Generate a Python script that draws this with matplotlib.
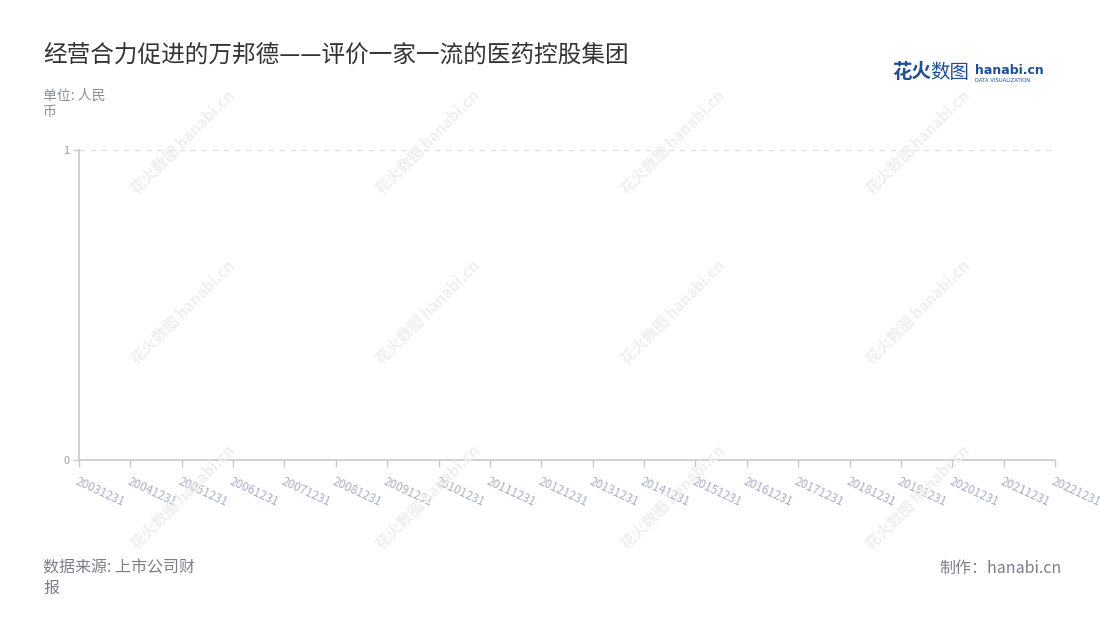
import matplotlib
matplotlib.use("Agg")
import matplotlib.pyplot as plt
import numpy as np

plt.rcParams['font.family'] = ['Noto Sans CJK SC', 'DejaVu Sans']

# x categories (report dates) - the chart has no data points drawn
dates = ['20031231', '20041231', '20051231', '20061231', '20071231',
         '20081231', '20091231', '20101231', '20111231', '20121231',
         '20131231', '20141231', '20151231', '20161231', '20171231',
         '20181231', '20191231', '20201231', '20211231', '20221231']
values = [np.nan] * len(dates)
y_ticks = [0, 1]

title = '经营合力促进的万邦德——评价一家一流的医药控股集团'
unit = '单位: 人民\n币'
source = '数据来源: 上市公司财\n报'
maker = '制作：hanabi.cn'

W, H = 1100, 620
fig = plt.figure(figsize=(W / 100, H / 100), dpi=100)
fig.patch.set_facecolor('white')

def fx(px):
    return px / W

def fy(py):
    return 1 - py / H

# watermark grid
for cx in [183, 428, 673, 918]:
    for cy in [142, 312, 497]:
        fig.text(fx(cx), fy(cy), '花火数图 hanabi.cn', rotation=45,
                 ha='center', va='center', fontsize=11, color='#efefef',
                 fontweight='bold', zorder=0)

ax = fig.add_axes([fx(79), fy(460), fx(1055) - fx(79), fy(150) - fy(460)])
ax.set_facecolor('none')
x = np.arange(len(dates))
ax.plot(x, values, color='#5470c6')

ax.set_xlim(0, len(dates) - 1)
ax.set_ylim(0, 1)
ax.set_xticks(x)
ax.set_xticklabels(dates, rotation=-25, ha='left', va='top',
                   rotation_mode='anchor', color='#a9b0c2', fontsize=8.5)
ax.set_yticks(y_ticks)
ax.set_yticklabels([str(v) for v in y_ticks], color='#a0a0a0', fontsize=8)
ax.tick_params(axis='x', length=5, width=1, color='#c8c8c8', pad=6)
ax.tick_params(axis='y', length=4, width=1, color='#c8c8c8', pad=3)

for side in ['top', 'right']:
    ax.spines[side].set_visible(False)
for side in ['left', 'bottom']:
    ax.spines[side].set_color('#c8c8c8')
    ax.spines[side].set_linewidth(1.2)

ax.axhline(1, color='#e0e0e0', lw=1, ls=(0, (4, 4)), zorder=1)

# texts
fig.text(fx(43), fy(55), title, ha='left', va='center', fontsize=17,
         color='#333333')
fig.text(fx(43), fy(104), unit, ha='left', va='center', fontsize=10,
         color='#8a8f99', linespacing=1.25)
fig.text(fx(43), fy(578), source, ha='left', va='center', fontsize=11.5,
         color='#7a7f8a', linespacing=1.3)
fig.text(fx(1062), fy(568), maker, ha='right', va='center', fontsize=11.5,
         color='#7a7f8a')

# logo
fig.text(fx(892), fy(73), '花火', ha='left', va='center', fontsize=14,
         color='#1e4f96', fontweight='bold')
fig.text(fx(930), fy(73), '数图', ha='left', va='center', fontsize=14,
         color='#1e4f96')
fig.text(fx(975), fy(70), 'hanabi.cn', ha='left', va='center', fontsize=9,
         color='#1e4f96', fontweight='bold', family='DejaVu Sans')
fig.text(fx(975), fy(80), 'DATA VISUALIZATION', ha='left', va='center',
         fontsize=3.8, color='#1e4f96', family='DejaVu Sans')

fig.savefig('out.png', dpi=100, facecolor='white')
